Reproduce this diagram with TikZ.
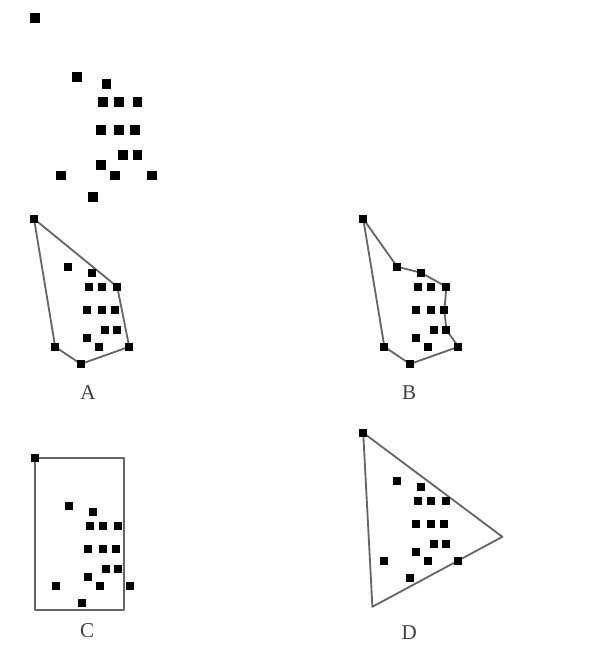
\documentclass[tikz,border=0pt]{standalone}
\usepackage{fontspec}
\setmainfont{Liberation Serif}
\usepackage{tikz}
\usetikzlibrary{backgrounds}

% the same 16 points, drawn in every panel
\newcommand{\dotcloud}{%
  \node[pt] (p1)  at (0.00, 0.00) {};
  \node[pt] (p2)  at (0.85,-1.20) {};
  \node[pt] (p3)  at (1.45,-1.35) {};
  \node[pt] (p4)  at (1.38,-1.70) {};
  \node[pt] (p5)  at (1.70,-1.70) {};
  \node[pt] (p6)  at (2.08,-1.70) {};
  \node[pt] (p7)  at (1.33,-2.28) {};
  \node[pt] (p8)  at (1.70,-2.28) {};
  \node[pt] (p9)  at (2.03,-2.28) {};
  \node[pt] (p10) at (1.78,-2.78) {};
  \node[pt] (p11) at (2.08,-2.78) {};
  \node[pt] (p12) at (1.33,-2.98) {};
  \node[pt] (p13) at (0.53,-3.20) {};
  \node[pt] (p14) at (1.63,-3.20) {};
  \node[pt] (p15) at (2.38,-3.20) {};
  \node[pt] (p16) at (1.17,-3.63) {};
}

\begin{document}
\begin{tikzpicture}[pt/.style={rectangle,fill=black,inner sep=0pt,minimum size=0.2cm},
    hull/.style={draw=black!60,line width=1.3pt,line join=round},
    lbl/.style={text=black!75,font=\fontsize{15}{17}\selectfont}]
       \useasboundingbox (0,0) rectangle (14.75,16.25);
       \begin{scope}[shift={(0.88,15.80)},scale=1.23,transform shape]
         \dotcloud
       \end{scope}
       \begin{scope}[shift={(0.85,10.78)},name prefix=a-]
         \dotcloud
       \end{scope}
       \begin{scope}[shift={(9.08,10.78)},name prefix=b-]
         \dotcloud
       \end{scope}
       \begin{scope}[shift={(0.88,4.80)},name prefix=c-]
         \dotcloud
         \coordinate (q) at (2.23,-3.80);
       \end{scope}
       \begin{scope}[shift={(9.08,5.43)},name prefix=d-]
         \dotcloud
         \coordinate (r) at (3.48,-2.60);
         \coordinate (s) at (0.23,-4.35);
       \end{scope}
       \begin{scope}[on background layer]
         \draw[hull] (a-p1.center) -- (a-p6.center) -- (a-p15.center) --
           (a-p16.center) -- (a-p13.center) -- cycle;
         \draw[hull] (b-p1.center) -- (b-p2.center) -- (b-p3.center) --
           (b-p6.center) -- (b-p9.center) -- (b-p11.center) --
           (b-p15.center) -- (b-p16.center) -- (b-p13.center) -- cycle;
         \draw[hull] (c-p1.center) rectangle (c-q);
         \draw[hull] (d-p1.center) -- (d-r) -- (d-s) -- cycle;
       \end{scope}
       \node[lbl] (labA) at ( 2.20, 6.43) {A};
       \node[lbl] (labB) at (10.23, 6.43) {B};
       \node[lbl] (labC) at ( 2.18, 0.48) {C};
       \node[lbl] (labD) at (10.23, 0.43) {D};
\end{tikzpicture}
\end{document}
